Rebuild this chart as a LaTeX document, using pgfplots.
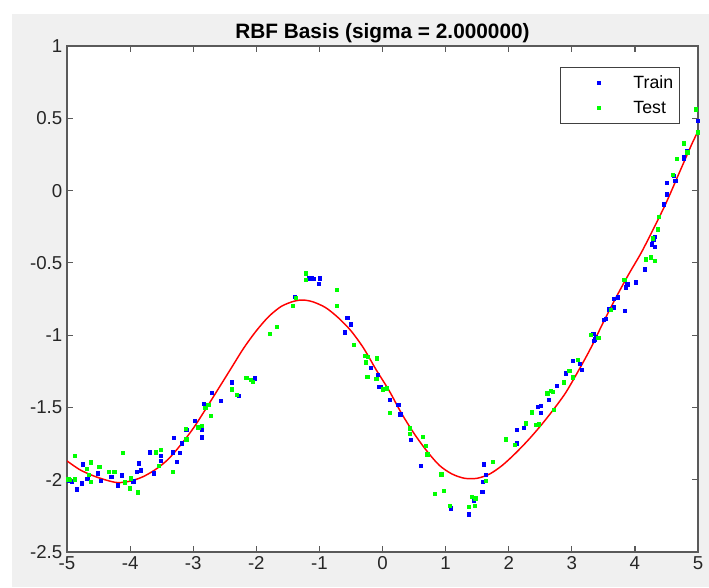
\documentclass[border=0pt]{standalone}
\usepackage{pgfplots}
\pgfplotsset{compat=1.18}
\usepackage{fontspec}
\setmainfont{Liberation Sans}
\definecolor{figgray}{RGB}{240,240,240}
\definecolor{axgray}{RGB}{90,90,90}
\begin{document}
\begin{tikzpicture}
\fill[white] (0pt,0pt) rectangle (531.75pt,440.25pt);
\fill[figgray] (9pt,0pt) rectangle (531.75pt,429.75pt);
\begin{axis}[
  at={(50.25pt,26.25pt)}, anchor=south west,
  scale only axis, width=473.25pt, height=379.5pt,
  xmin=-5, xmax=5, ymin=-2.5, ymax=1,
  axis background/.style={fill=white},
  axis line style={axgray, line width=0.9pt},
  tick style={axgray, line width=0.9pt},
  major tick length=4.5pt,
  tick align=inside, tick pos=both,
  xtick={-5,-4,-3,-2,-1,0,1,2,3,4,5},
  xticklabels={-5,-4,-3,-2,-1,0,1,2,3,4,5},
  ytick={-2.5,-2,-1.5,-1,-0.5,0,0.5,1},
  yticklabels={-2.5,-2,-1.5,-1,-0.5,0,0.5,1},
  ticklabel style={font=\fontsize{14}{16}\selectfont, text=black!85},
  title={RBF Basis (sigma = 2.000000)},
  title style={font=\fontsize{15.6}{18}\selectfont\bfseries, yshift=-7.5pt},
  legend style={at={(0.972,0.9585)}, anchor=north east, draw=black!75, line width=0.75pt, fill=white,
    font=\fontsize{13.3}{15}\selectfont, inner xsep=3pt, inner ysep=4pt, row sep=4pt},
  legend cell align=left,
  legend image code/.code={\path[draw=none] (-26pt,0pt) (24pt,0pt); \draw[#1, line width=0pt] plot[only marks] coordinates {(0pt,0pt)};},
]
\addplot[only marks, mark=square*, mark size=1.2pt, color=blue] coordinates {
(-4.75,-1.893) (-4.51,-1.955) (-4.68,-1.995) (-4.76,-2.024) (-4.97,-2.008) (-4.92,-2.013)
(-4.85,-2.066) (-4.47,-2.006) (-4.30,-1.979) (-4.13,-1.969) (-4.20,-2.038) (-3.95,-2.010)
(-3.89,-1.944) (-3.83,-1.934) (-3.86,-1.886) (-3.69,-1.810) (-3.51,-1.836) (-3.52,-1.868)
(-3.62,-1.955) (-3.32,-1.810) (-3.31,-1.709) (-3.26,-1.875) (-3.21,-1.812) (-3.18,-1.748)
(-3.11,-1.656) (-2.97,-1.591) (-2.86,-1.651) (-2.87,-1.706) (-2.83,-1.476) (-2.56,-1.453)
(-2.70,-1.398) (-2.39,-1.326) (-2.28,-1.418) (-2.02,-1.298) (-1.39,-0.736) (-1.16,-0.607)
(-1.12,-0.607) (-1.09,-0.611) (-1.00,-0.607) (-1.01,-0.646) (-0.56,-0.879) (-0.50,-0.925)
(-0.60,-0.980) (-0.19,-1.225) (-0.08,-1.275) (-0.06,-1.356) (-0.03,-1.358) (0.11,-1.448)
(0.25,-1.483) (0.28,-1.547) (0.45,-1.725) (0.60,-1.905) (1.08,-2.197) (1.37,-2.239)
(1.44,-2.144) (1.58,-2.082) (1.59,-2.013) (1.64,-1.967) (1.61,-1.893) (2.13,-1.748)
(2.13,-1.656) (2.24,-1.640) (2.46,-1.494) (2.51,-1.490) (2.51,-1.536) (2.64,-1.448)
(2.76,-1.351) (2.91,-1.264) (3.02,-1.176) (3.13,-1.199) (3.16,-1.241) (3.34,-0.992)
(3.38,-1.010) (3.35,-1.040) (3.37,-1.028) (3.51,-0.895) (3.54,-0.888) (3.58,-0.821)
(3.66,-0.807) (3.67,-0.748) (3.73,-0.738) (3.84,-0.833) (3.88,-0.648) (3.86,-0.669)
(4.01,-0.634) (4.15,-0.544) (4.27,-0.371) (4.32,-0.388) (4.29,-0.342) (4.31,-0.319)
(4.46,-0.095) (4.50,-0.026) (4.50,0.054) (4.62,0.101) (4.64,0.066) (4.77,0.223)
(4.78,0.234) (4.82,0.276) (4.99,0.481) (5.00,0.481)
};
\addlegendentry{Train}
\addplot[only marks, mark=square*, mark size=1.2pt, color=green] coordinates {
(-4.88,-1.833) (-4.62,-1.879) (-4.69,-1.925) (-4.49,-1.909) (-4.66,-1.967) (-4.62,-2.013)
(-4.98,-1.997) (-4.95,-2.001) (-4.88,-1.997) (-4.34,-1.944) (-4.25,-1.944) (-4.11,-1.812)
(-4.08,-2.017) (-3.99,-1.99) (-4.00,-2.059) (-3.88,-2.087) (-3.59,-1.810) (-3.51,-1.794)
(-3.55,-1.902) (-3.32,-1.944) (-3.11,-1.720) (-3.12,-1.65) (-2.92,-1.637) (-2.86,-1.628)
(-2.72,-1.557) (-2.81,-1.50) (-2.76,-1.48) (-2.39,-1.374) (-2.31,-1.414) (-2.16,-1.294)
(-2.09,-1.310) (-2.06,-1.322) (-1.79,-0.990) (-1.67,-0.943) (-1.42,-0.798) (-1.37,-0.741)
(-1.22,-0.572) (-1.22,-0.618) (-0.72,-0.687) (-0.72,-0.798) (-0.45,-1.068) (-0.28,-1.142)
(-0.23,-1.149) (-0.27,-1.188) (-0.09,-1.160) (-0.24,-1.287) (-0.10,-1.303) (0.005,-1.374)
(0.07,-1.367) (0.12,-1.536) (0.43,-1.644) (0.43,-1.683) (0.64,-1.702) (0.69,-1.764)
(0.71,-1.824) (0.93,-1.962) (0.97,-2.078) (0.83,-2.098) (1.06,-2.179) (1.37,-2.186)
(1.46,-2.179) (1.42,-2.117) (1.47,-2.128) (1.64,-2.006) (1.75,-1.877) (1.95,-1.720)
(2.09,-1.759) (2.27,-1.609) (2.36,-1.533) (2.43,-1.621) (2.48,-1.616) (2.61,-1.402)
(2.67,-1.384) (2.70,-1.391) (2.72,-1.517) (2.87,-1.326) (2.96,-1.245) (3.02,-1.291)
(3.10,-1.172) (3.30,-0.999) (3.42,-1.017) (3.62,-0.826) (3.83,-0.618) (4.17,-0.475)
(4.25,-0.461) (4.32,-0.485) (4.28,-0.330) (4.36,-0.268) (4.38,-0.180) (4.60,0.108)
(4.66,0.219) (4.77,0.327) (4.83,0.265) (4.96,0.562) (5.00,0.403)
};
\addlegendentry{Test}
\addplot[red, line width=1.1pt, smooth, forget plot] coordinates {
(-5,-1.87) (-4.8,-1.93) (-4.6,-1.97) (-4.4,-2.00) (-4.2,-2.02) (-4.0,-2.01) (-3.8,-1.98)
(-3.6,-1.93) (-3.4,-1.86) (-3.2,-1.76) (-3.0,-1.645) (-2.8,-1.51) (-2.6,-1.37) (-2.4,-1.23)
(-2.2,-1.09) (-2.0,-0.97) (-1.8,-0.87) (-1.6,-0.80) (-1.4,-0.765) (-1.26,-0.757) (-1.1,-0.77)
(-0.9,-0.81) (-0.7,-0.88) (-0.5,-0.97) (-0.3,-1.09) (-0.1,-1.24) (0.1,-1.38) (0.3,-1.54)
(0.5,-1.68) (0.7,-1.80) (0.9,-1.90) (1.1,-1.96) (1.3,-1.99) (1.5,-1.99) (1.7,-1.96)
(1.9,-1.90) (2.1,-1.82) (2.3,-1.73) (2.5,-1.63) (2.7,-1.52) (2.9,-1.40) (3.1,-1.25)
(3.3,-1.09) (3.5,-0.91) (3.7,-0.74) (3.9,-0.58) (4.1,-0.43) (4.3,-0.26) (4.5,-0.08)
(4.7,0.12) (4.9,0.32) (5.0,0.41)
};
\end{axis}
\end{tikzpicture}
\end{document}
